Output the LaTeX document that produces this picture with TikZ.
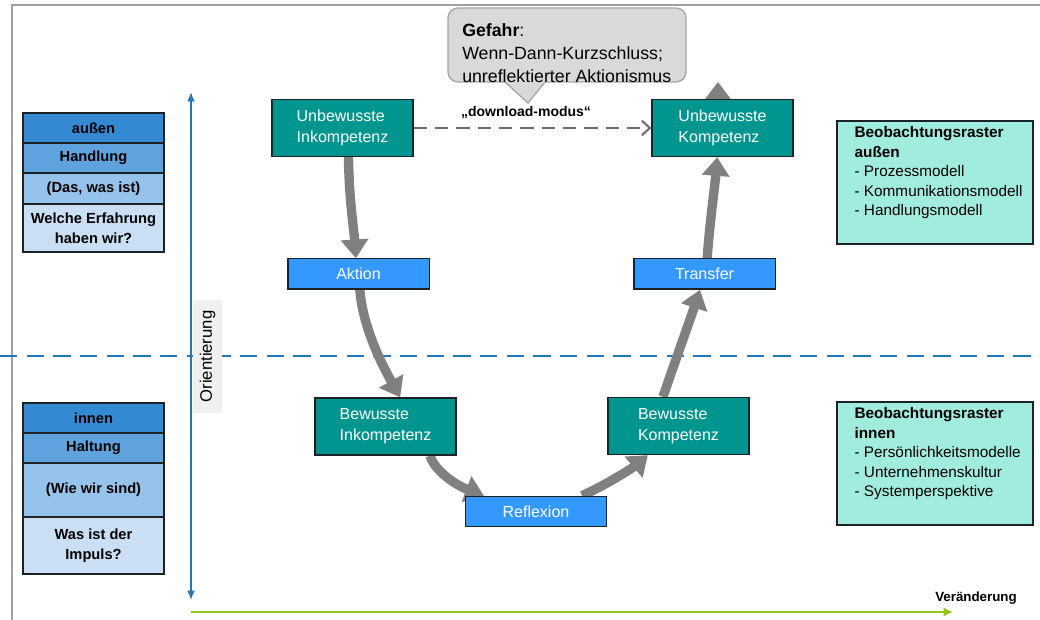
\documentclass[tikz,border=0pt]{standalone}
\usepackage{fontspec}
\setmainfont{Liberation Sans}
\usetikzlibrary{arrows.meta,backgrounds,calc}
\definecolor{tealc}{RGB}{0,150,143}
\definecolor{bluec}{RGB}{51,153,255}
\definecolor{boxborder}{RGB}{28,34,38}
\definecolor{rowA}{RGB}{52,138,210}
\definecolor{rowB}{RGB}{95,163,222}
\definecolor{rowC}{RGB}{150,195,235}
\definecolor{rowD}{RGB}{202,223,243}
\definecolor{mint}{RGB}{160,236,222}
\definecolor{arrowgray}{RGB}{128,128,128}
\definecolor{dashgray}{RGB}{110,110,110}
\definecolor{axisblue}{RGB}{31,120,190}
\definecolor{axisgreen}{RGB}{146,196,30}
\definecolor{framegray}{RGB}{160,160,160}
\definecolor{callfill}{RGB}{217,217,217}
\definecolor{callborder}{RGB}{166,166,166}
\definecolor{orientfill}{RGB}{240,240,240}
\begin{document}
\begin{tikzpicture}[x=0.75pt,y=-0.75pt,
  tealbox/.style={draw=boxborder, line width=1pt, fill=tealc, text=white,
    minimum width=105.75pt, minimum height=42.75pt, inner sep=0pt, align=left,
    font=\fontsize{12}{15.75}\selectfont},
  bluebox/.style={draw=boxborder, line width=1pt, fill=bluec, text=white,
    minimum width=106pt, minimum height=22.75pt, inner sep=0pt,
    font=\fontsize{12}{14}\selectfont},
  cell/.style={draw=boxborder, line width=1.1pt, minimum width=105.75pt,
    inner sep=0pt, align=center, font=\fontsize{11}{15}\selectfont\bfseries},
  rbox/.style={draw=boxborder, line width=1pt, fill=mint,
    minimum width=147pt, minimum height=92.25pt, inner sep=0pt},
  rtext/.style={align=left, inner sep=0pt, anchor=north west,
    font=\fontsize{11.5}{14.6}\selectfont},
  bigarrow/.style={draw=arrowgray, line width=7pt,
    -{Triangle[width=20pt,length=14pt]}},
  dasharrow/.style={draw=dashgray, line width=1.5pt, dash pattern=on 10pt off 6pt,
    -{Straight Barb[length=6pt,width=11pt]}},
  vaxis/.style={draw=axisblue, line width=1.6pt,
    {Latex[length=7pt,width=6pt]}-{Latex[length=7pt,width=6pt]}},
  haxis/.style={draw=axisgreen, line width=2pt, -{Latex[length=7pt,width=7pt]}},
  divider/.style={draw=axisblue, line width=1.9pt, dash pattern=on 13pt off 7pt},
  orient/.style={fill=orientfill, rotate=90, minimum width=84.75pt,
    minimum height=21.75pt, inner sep=0pt, font=\fontsize{12.5}{14}\selectfont},
  boldlabel/.style={inner sep=0pt, font=\fontsize{10.5}{12}\selectfont\bfseries},
  calltext/.style={align=left, inner sep=0pt, anchor=west,
    font=\fontsize{13.3}{17.25}\selectfont}
]
\useasboundingbox (0,0) rectangle (1040,620);

% left tables
\node[cell, fill=rowA, minimum height=22.5pt]  (c1) at (93.5,128)   {außen};
\node[cell, fill=rowB, minimum height=22.5pt]  (c2) at (93.5,158)   {Handlung};
\node[cell, fill=rowC, minimum height=23.25pt] (c3) at (93.5,188.5) {(Das, was ist)};
\node[cell, fill=rowD, minimum height=36pt]    (c4) at (93.5,228)   {Welche Erfahrung\\haben wir?};
\node[cell, fill=rowA, minimum height=22.5pt]  (d1) at (93.5,418)   {innen};
\node[cell, fill=rowB, minimum height=22.5pt]  (d2) at (93.5,448)   {Haltung};
\node[cell, fill=rowC, minimum height=40.5pt]  (d3) at (93.5,490)   {(Wie wir sind)};
\node[cell, fill=rowD, minimum height=42.75pt] (d4) at (93.5,545.5) {Was ist der\\Impuls?};

% main boxes
\node[tealbox] (ui) at (342.5,128)   {Unbewusste\\Inkompetenz};
\node[tealbox] (uk) at (722.5,128)   {Unbewusste\\Kompetenz};
\node[tealbox] (bi) at (385.5,426.5) {Bewusste\\Inkompetenz};
\node[tealbox] (bk) at (678.5,426)   {Bewusste\\Kompetenz};
\node[bluebox] (aktion)    at (358.5,274)   {Aktion};
\node[bluebox] (transfer)  at (704.5,274)   {Transfer};
\node[bluebox] (reflexion) at (536,511.5)   {Reflexion};

% right boxes
\node[rbox] (ra) at (935,182.5) {};
\node[rtext] (rat) at ([xshift=13.5pt,yshift=-4.5pt]ra.north west)
  {\textbf{Beobachtungsraster}\\\textbf{außen}\\- Prozessmodell\\- Kommunikationsmodell\\- Handlungsmodell};
\node[rbox] (rb) at (935,463.5) {};
\node[rtext] (rbt) at ([xshift=13.5pt,yshift=-4.5pt]rb.north west)
  {\textbf{Beobachtungsraster}\\\textbf{innen}\\- Persönlichkeitsmodelle\\- Unternehmenskultur\\- Systemperspektive};

% axes and labels
\coordinate (vtop) at (191,92);
\coordinate (vbot) at (191,600);
\coordinate (hstart) at (191,612);
\coordinate (hend) at (953,612);
\node[orient] (orientierung) at (207.5,356.5) {Orientierung};
\node[boldlabel, font=\fontsize{10}{12}\selectfont\bfseries] (veraenderung) at (976,598) {Veränderung};
\draw[vaxis] (vbot) -- (vtop);
\draw[haxis] (hstart) -- (hend);

% download-modus
\node[boldlabel] (download) at (526,113) {„download-modus“};
\draw[dasharrow] (ui.east) -- (uk.west);

% callout
\draw[fill=callfill, draw=callborder, line width=1pt, rounded corners=7.5pt] (448,8) rectangle (686,82);
\fill[callfill] (505,82) -- (528,103) -- (545,82) -- (545,80) -- (505,80) -- cycle;
\draw[callborder, line width=1pt, line join=miter] (505,82) -- (528,103) -- (545,82);
\node[calltext] (gefahr) at (462,53)
  {\textbf{Gefahr}:\\Wenn-Dann-Kurzschluss;\\unreflektierter Aktionismus};

\begin{scope}[on background layer]
  \fill[white] (0,0) rectangle (1040,620);
  \coordinate (fl) at (12,620);
  \coordinate (fc) at (12,5);
  \coordinate (fr) at (1040,5);
  \draw[framegray, line width=1.6pt] (fl) -- (fc) -- (fr);
  \coordinate (dl) at (0,356);
  \coordinate (dr) at (1040,356);
  \draw[divider] (dl) -- (dr);
  % cycle arrows
  \draw[bigarrow] ([xshift=4.5pt]ui.south) .. controls (349,200) and (354,230) .. ([xshift=-2pt]aktion.north);
  \draw[bigarrow] ([xshift=1pt]aktion.south) .. controls (363,330) and (385,370) .. ([xshift=11pt]bi.north);
  \draw[bigarrow] ([xshift=33.4pt]bi.south) .. controls (435,472) and (458,486) .. ([xshift=-39pt]reflexion.north);
  \draw[bigarrow] ([xshift=34.5pt]reflexion.north) .. controls (610,483) and (635,466) .. ([xshift=-23pt]bk.south);
  \draw[bigarrow] ([xshift=-11.6pt]bk.north) .. controls (672,370) and (690,320) .. ([xshift=-3.4pt]transfer.south);
  \draw[bigarrow] ([xshift=2pt]transfer.north) .. controls (710,220) and (715,185) .. ([xshift=-4pt]uk.south);
  \draw[bigarrow] ([xshift=-3.4pt]uk.center) -- ([xshift=-3.4pt,yshift=12.75pt]uk.north);
\end{scope}
\end{tikzpicture}
\end{document}
